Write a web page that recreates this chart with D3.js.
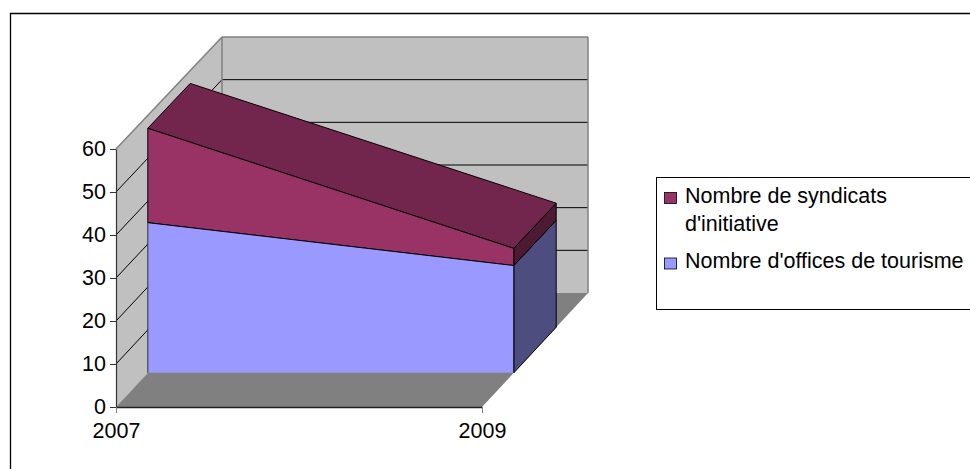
<!DOCTYPE html>
<html><head><meta charset="utf-8">
<script src="https://cdn.jsdelivr.net/npm/d3@7"></script>
<style>html,body{margin:0;padding:0;background:#fff;overflow:hidden}svg{display:block}text{font-family:"Liberation Sans",Arial,sans-serif;fill:#000}</style>
</head><body><svg id="c" width="970" height="469"></svg>
<script>
const years = ["2007", "2009"];
const offices = [35, 25];
const syndicats = [22, 4];
const yTicks = [0, 10, 20, 30, 40, 50, 60];
const legendLabels = [["Nombre de syndicats", "d'initiative"], ["Nombre d'offices de tourisme"]];
const legendColors = ["#993366", "#9999FF"];

const svg = d3.select("#c");
const x = d3.scalePoint().domain(years).range([116, 482]);
const yFront = d3.scaleLinear().domain([0, 60]).range([407, 149]);
const yBack = d3.scaleLinear().domain([0, 60]).range([293, 37]);
const depthX = d3.scaleLinear().domain([0, 1]).range([0, 106]);
const FS = 21.5;

// project (x pixel of the front plane, value, depth) to the screen
function P(px, v, d) { return [px + depthX(d), yFront(v) + (yBack(v) - yFront(v)) * d]; }
const poly = (pts, fill, stroke, sw) => svg.append("polygon")
  .attr("points", pts.map(p => p.join(",")).join(" "))
  .attr("fill", fill).attr("stroke", stroke || "none").attr("stroke-width", sw || 1);
const line = (a, b, stroke, sw) => svg.append("line")
  .attr("x1", a[0]).attr("y1", a[1]).attr("x2", b[0]).attr("y2", b[1])
  .attr("stroke", stroke).attr("stroke-width", sw || 1);

// outer frame (open at the bottom and right, cropped by the picture)
svg.append("path").attr("d", "M970,13.5H10.5V469").attr("fill", "none").attr("stroke", "#000").attr("stroke-width", 1.3);

const x0 = x(years[0]), x1 = x(years[1]);
// walls
poly([P(x0, 0, 0), P(x0, 60, 0), P(x0, 60, 1), P(x0, 0, 1)], "#C0C0C0");
poly([P(x0, 0, 1), P(x0, 60, 1), P(x1, 60, 1), P(x1, 0, 1)], "#C0C0C0");
poly([P(x0, 0, 0), P(x1, 0, 0), P(x1, 0, 1), P(x0, 0, 1)], "#808080");
// gridlines
yTicks.slice(1, -1).forEach(v => {
  line(P(x0, v, 0), P(x0, v, 1), "#000");
  line(P(x0, v, 1), P(x1, v, 1), "#000");
});
// wall edges
line(P(x0, 60, 0), P(x0, 60, 1), "#808080", 1.5);
line(P(x0, 60, 1), P(x1, 60, 1), "#808080", 1.5);
line(P(x1, 60, 1), P(x1, 0, 1), "#808080", 1.5);
line(P(x0, 60, 1), P(x0, 0, 1), "#808080", 1.5);

// stacked 3D area
const dF = 0.3, dB = 0.7;
const top1 = offices, top2 = offices.map((v, i) => v + syndicats[i]);
// right side faces
poly([P(x1, 0, dF), P(x1, top1[1], dF), P(x1, top1[1], dB), P(x1, 0, dB)], "#4D4D80", "#000");
poly([P(x1, top1[1], dF), P(x1, top2[1], dF), P(x1, top2[1], dB), P(x1, top1[1], dB)], "#4D1A33", "#000");
// top face
poly([P(x0, top2[0], dF), P(x1, top2[1], dF), P(x1, top2[1], dB), P(x0, top2[0], dB)], "#73264D", "#000");
// front faces
poly([P(x0, top1[0], dF), P(x1, top1[1], dF), P(x1, top2[1], dF), P(x0, top2[0], dF)], "#993366", "#000");
poly([P(x0, 0, dF), P(x1, 0, dF), P(x1, top1[1], dF), P(x0, top1[0], dF)], "#9999FF");
line(P(x0, top1[0], dF), P(x1, top1[1], dF), "#000");
line(P(x0, 0, dF), P(x0, top1[0], dF), "#333", 1);
line(P(x1, 0, dF), P(x1, top1[1], dF), "#000");

// value axis
const axisLeft = svg.append("g").attr("transform", `translate(${x0},0)`)
  .call(d3.axisLeft(yFront).tickValues(yTicks).tickSize(6).tickSizeOuter(0).tickPadding(4).tickFormat(d3.format("d")));
axisLeft.select("path").attr("stroke", "#333").attr("stroke-width", 1.2);
axisLeft.selectAll("line").attr("stroke", "#333");
axisLeft.selectAll("text").attr("font-size", FS).style("font-family", '"Liberation Sans"');
// category axis
const axisBottom = svg.append("g").attr("transform", `translate(0,${yFront(0)})`)
  .call(d3.axisBottom(x).tickSize(6).tickSizeOuter(0).tickPadding(10));
axisBottom.select("path").attr("stroke", "#222").attr("stroke-width", 1.5);
axisBottom.selectAll("line").attr("stroke", "#808080");
axisBottom.selectAll("text").attr("font-size", FS).style("font-family", '"Liberation Sans"');

// legend
svg.append("rect").attr("x", 656.5).attr("y", 177.5).attr("width", 330).attr("height", 132)
  .attr("fill", "#fff").attr("stroke", "#000");
const rows = [[203, 192, legendLabels[0]], [268, 257.5, legendLabels[1]]];
rows.forEach(([base, sy, lines], i) => {
  svg.append("rect").attr("x", 664.5).attr("y", sy + 0.5).attr("width", 12).attr("height", 11)
    .attr("fill", legendColors[i]).attr("stroke", "#000").attr("stroke-width", 0.8);
  lines.forEach((t, k) => svg.append("text").attr("x", 685).attr("y", base + k * 28).attr("font-size", FS).text(t));
});
</script></body></html>
